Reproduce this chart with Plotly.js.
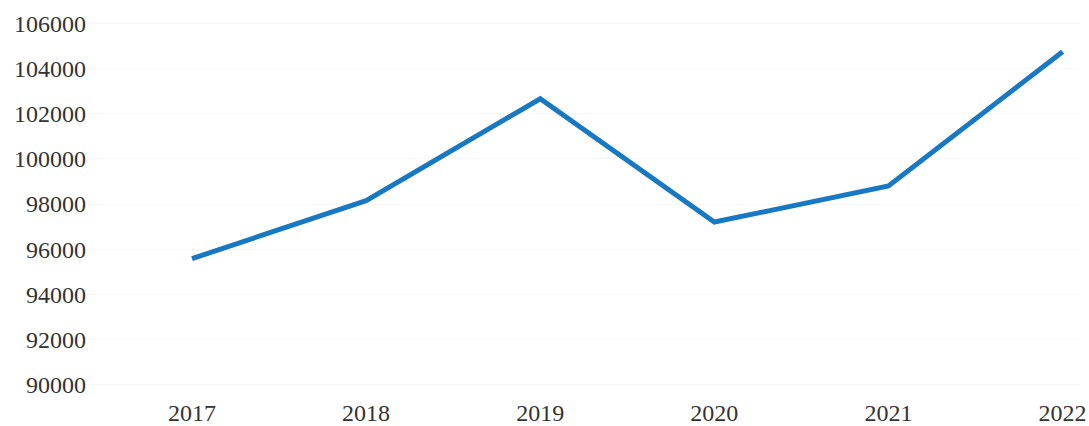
<!DOCTYPE html>
<html>
<head>
<meta charset="utf-8">
<script src="https://cdn.plot.ly/plotly-3.0.1.min.js"></script>
<style>html,body{margin:0;padding:0;background:#fff;}#chart{width:1089px;height:426px;}</style>
</head>
<body>
<div id="chart"></div>
<script>
const years = ["2017", "2018", "2019", "2020", "2021", "2022"];
const values = [95580, 98150, 102660, 97200, 98800, 104740];
const yTicks = [90000, 92000, 94000, 96000, 98000, 100000, 102000, 104000, 106000];

const trace = {
  x: years,
  y: values,
  type: 'scatter',
  mode: 'lines',
  line: {color: '#1878c2', width: 5},
  hoverinfo: 'x+y'
};

const layout = {
  width: 1089,
  height: 426,
  margin: {l: 87, r: 9, t: 12, b: 30},
  paper_bgcolor: '#ffffff',
  plot_bgcolor: '#ffffff',
  showlegend: false,
  font: {family: '"Liberation Serif", "DejaVu Serif", serif', size: 24, color: '#333333'},
  xaxis: {
    type: 'category',
    range: [-0.603, 5.1],
    showgrid: false,
    zeroline: false,
    showline: false,
    ticks: '',
    tickfont: {family: '"Liberation Serif", serif', size: 24, color: '#333333'}
  },
  yaxis: {
    range: [89500, 106500],
    tickvals: yTicks,
    ticktext: yTicks.map(String),
    showgrid: true,
    gridcolor: '#f6f6f6',
    gridwidth: 1,
    zeroline: false,
    showline: false,
    ticks: '',
    tickfont: {family: '"Liberation Serif", serif', size: 24, color: '#333333'}
  }
};

Plotly.newPlot('chart', [trace], layout, {displayModeBar: false, staticPlot: true});
</script>
</body>
</html>
